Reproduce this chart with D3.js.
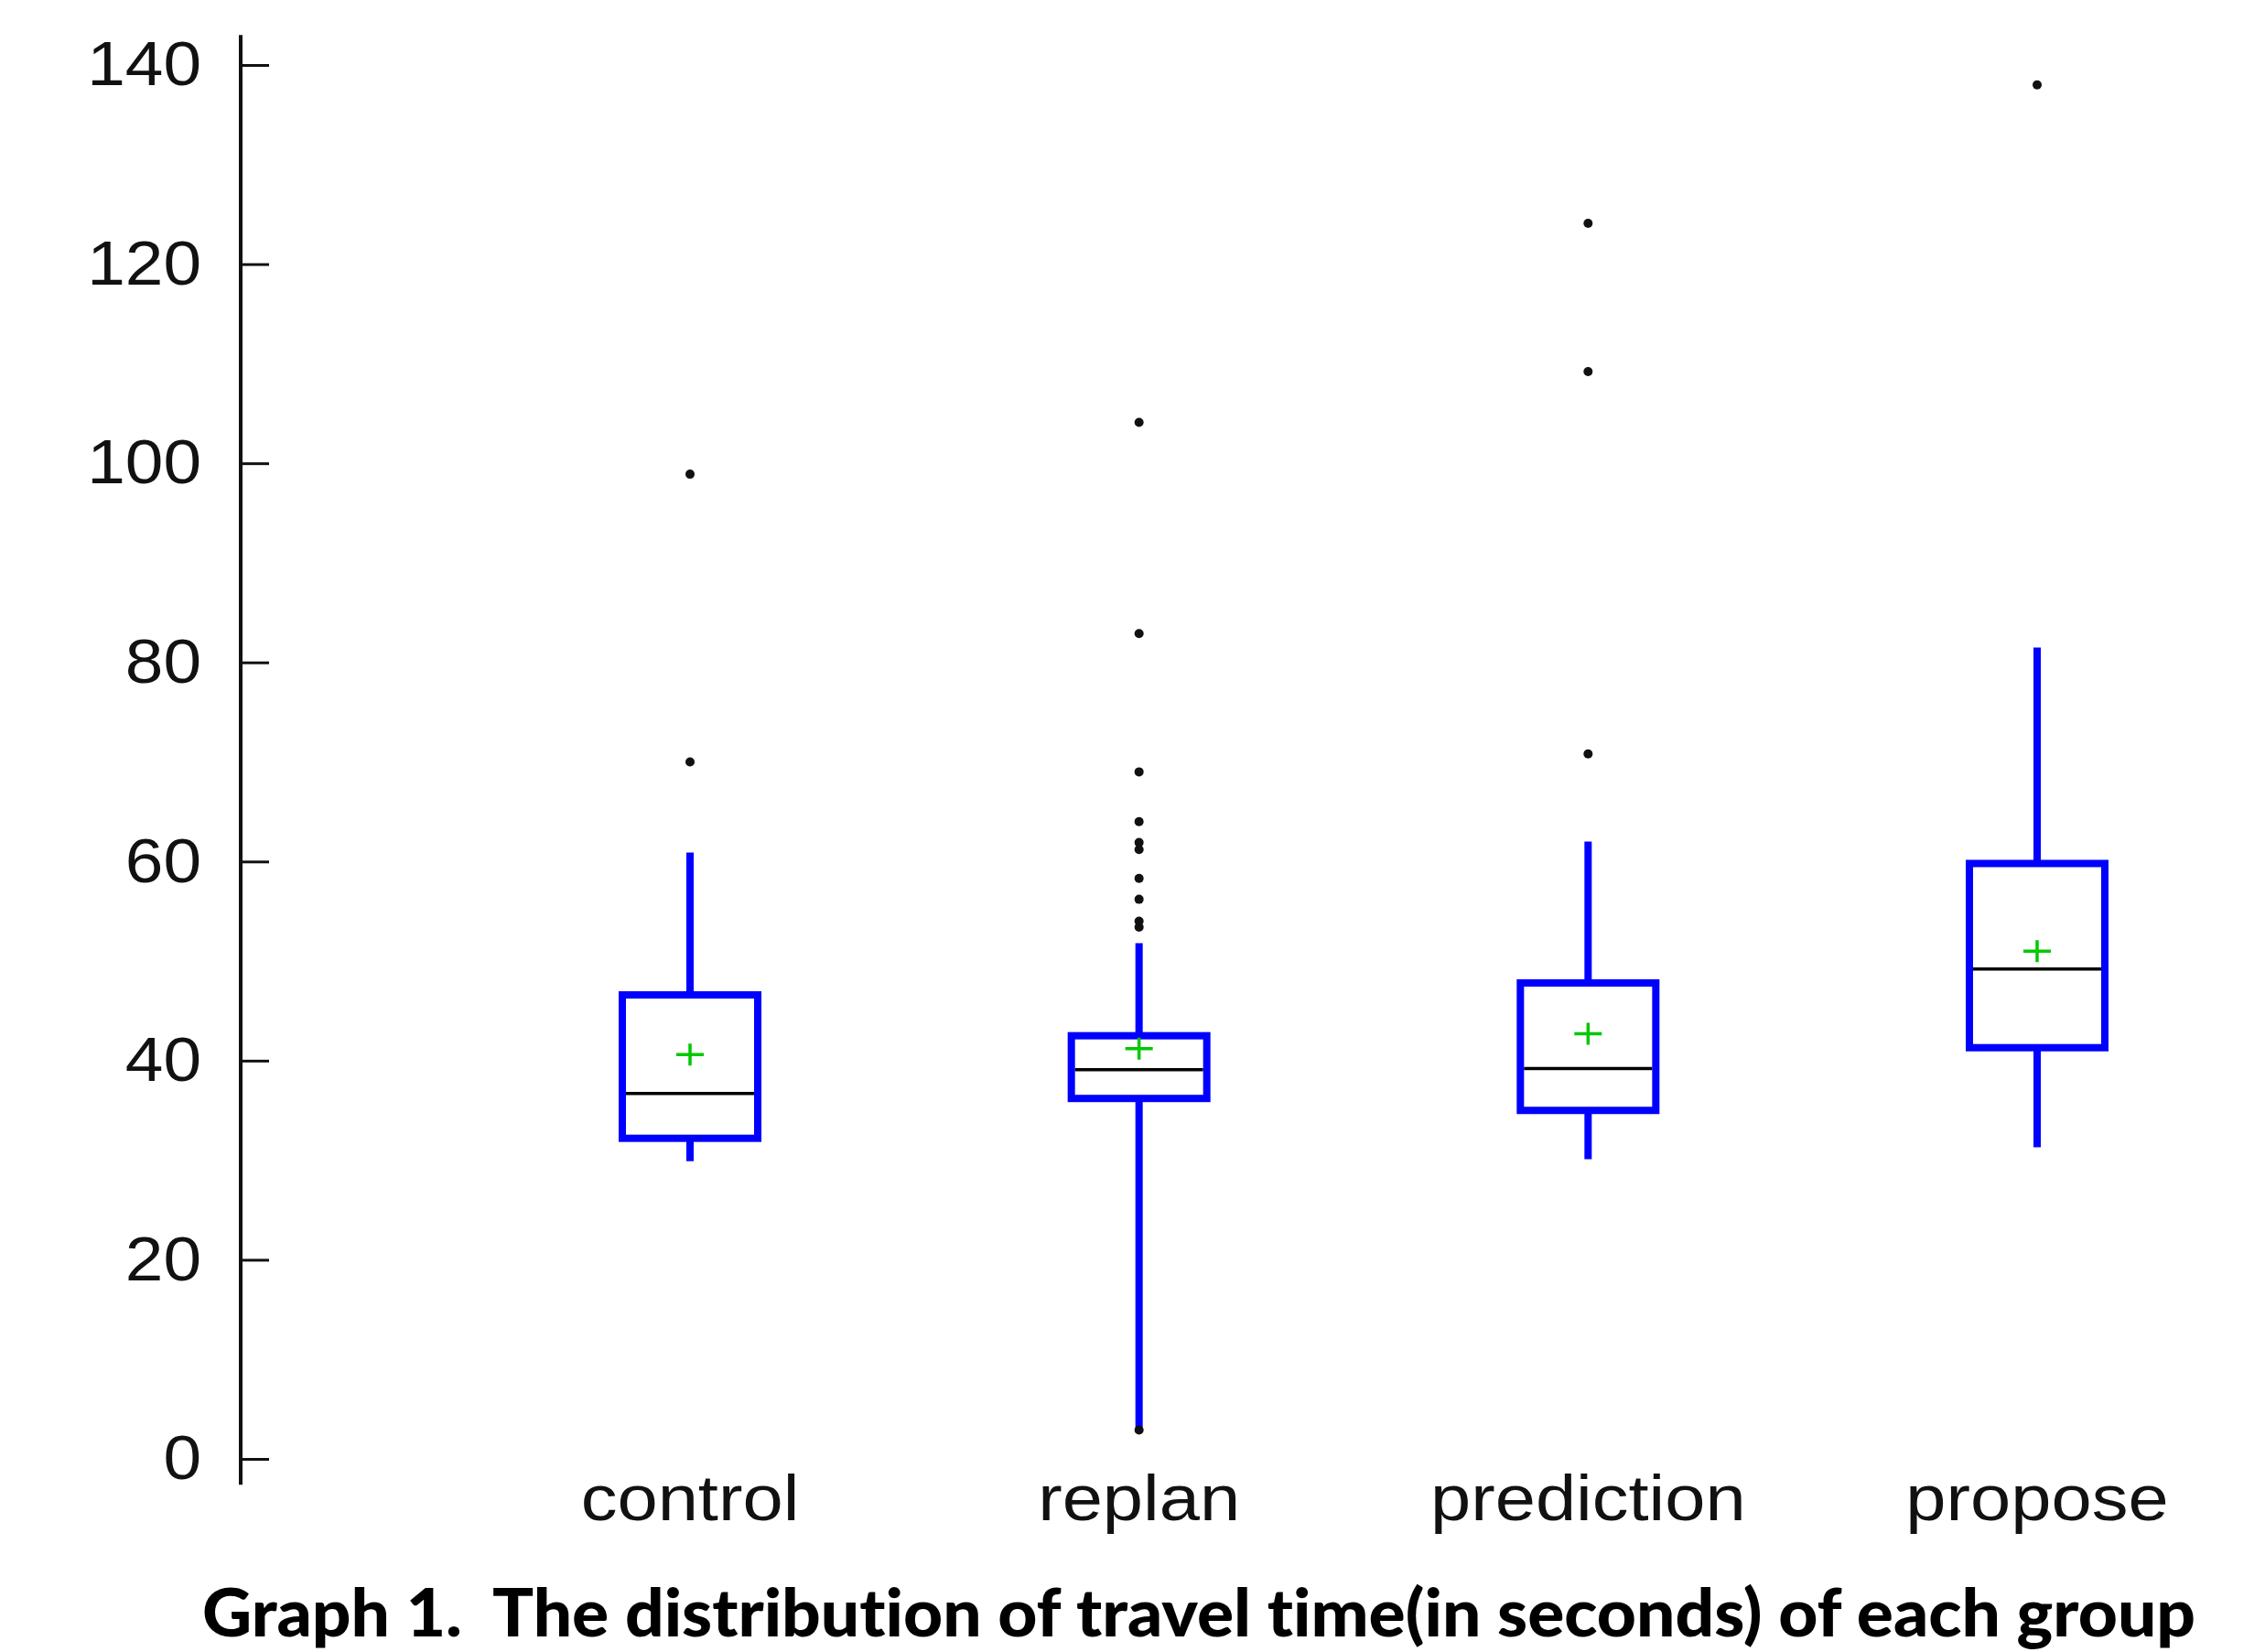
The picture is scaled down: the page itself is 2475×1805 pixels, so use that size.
<!DOCTYPE html>
<html>
<head>
<meta charset="utf-8">
<script src="https://cdn.jsdelivr.net/npm/d3@7"></script>
<style>
  html, body { margin: 0; padding: 0; background: #ffffff; }
  svg { display: block; }
</style>
</head>
<body>
<svg id="chart" width="2475" height="1805"></svg>
<script>
// ---- Data ----
const categories = ["control", "replan", "prediction", "propose"];
const whiskerLow  = [29.9, 2.9, 30.1, 31.3];
const q1          = [32.2, 36.2, 35.0, 41.3];
const medians     = [36.7, 39.1, 39.2, 49.2];
const q3          = [46.6, 42.5, 47.8, 59.8];
const whiskerHigh = [60.9, 51.8, 62.0, 81.5];
const means       = [40.6, 41.2, 42.7, 51.0];
const outliers = [
  [98.9, 70.0],
  [104.1, 82.9, 69.0, 64.0, 61.9, 61.2, 58.3, 56.2, 54.0, 53.4, 2.9],
  [124.1, 109.2, 70.8],
  [138.0]
];
const yTicks = [0, 20, 40, 60, 80, 100, 120, 140];
const title = "Graph 1.  The distribution of travel time(in seconds) of each group";

// ---- Layout ----
const svg = d3.select("#chart");
const axisX = 263;
const y = d3.scaleLinear().domain([0, 140]).range([1594, 71]);
const x = d3.scalePoint().domain(categories).range([754, 2226]);
const boxW = 148;
const blue = "#0000ff";
const labelFont = "'Liberation Sans', Arial, sans-serif";

// y axis
const pad = 43;
const yAxis = d3.axisLeft(y)
  .tickValues(yTicks)
  .tickSizeInner(-31)
  .tickSizeOuter(0)
  .tickPadding(pad)
  .tickFormat(d3.format("d"));
const gy = svg.append("g").attr("transform", `translate(${axisX},0)`).call(yAxis);
gy.select(".domain").remove();
gy.selectAll(".tick line").attr("stroke", "#111").attr("stroke-width", 3);
gy.selectAll(".tick text")
  .attr("fill", "#111")
  .attr("transform", `translate(${-pad},0) scale(1.1,1) translate(${pad},0)`)
  .style("font-family", labelFont)
  .style("font-size", "68px");
svg.append("line")
  .attr("x1", axisX).attr("x2", axisX)
  .attr("y1", y(143)).attr("y2", y(-2.6))
  .attr("stroke", "#111").attr("stroke-width", 4);

// boxes
const groups = svg.append("g").selectAll("g.box")
  .data(categories.map((c, i) => ({c, i})))
  .join("g").attr("class", "box");

// whiskers
groups.append("line")
  .attr("x1", d => x(d.c)).attr("x2", d => x(d.c))
  .attr("y1", d => y(q3[d.i])).attr("y2", d => y(whiskerHigh[d.i]))
  .attr("stroke", blue).attr("stroke-width", 8);
groups.append("line")
  .attr("x1", d => x(d.c)).attr("x2", d => x(d.c))
  .attr("y1", d => y(q1[d.i])).attr("y2", d => y(whiskerLow[d.i]))
  .attr("stroke", blue).attr("stroke-width", 8);
// box
groups.append("rect")
  .attr("x", d => x(d.c) - boxW / 2)
  .attr("width", boxW)
  .attr("y", d => y(q3[d.i]))
  .attr("height", d => y(q1[d.i]) - y(q3[d.i]))
  .attr("fill", "#fff")
  .attr("stroke", blue).attr("stroke-width", 8);
// median
groups.append("line")
  .attr("x1", d => x(d.c) - boxW / 2 + 4).attr("x2", d => x(d.c) + boxW / 2 - 4)
  .attr("y1", d => y(medians[d.i])).attr("y2", d => y(medians[d.i]))
  .attr("stroke", "#000").attr("stroke-width", 3.5);
// mean +
groups.append("path")
  .attr("d", d => {
    const cx = x(d.c), cy = y(means[d.i]);
    return `M${cx - 15},${cy}H${cx + 15}M${cx},${cy - 12}V${cy + 12}`;
  })
  .attr("stroke", "#00c800").attr("stroke-width", 3.5).attr("fill", "none");
// outliers
groups.selectAll("circle")
  .data(d => outliers[d.i].map(v => ({c: d.c, v})))
  .join("circle")
  .attr("cx", d => x(d.c))
  .attr("cy", d => y(d.v))
  .attr("r", 5)
  .attr("fill", "#111");

// category labels
svg.append("g").selectAll("text")
  .data(categories)
  .join("text")
  .attr("transform", d => `translate(${x(d)},1661) scale(1.12,1)`)
  .attr("text-anchor", "middle")
  .attr("fill", "#111")
  .style("font-family", labelFont)
  .style("font-size", "71px")
  .text(d => d);

// title
svg.append("text")
  .attr("x", 221)
  .attr("y", 1788)
  .attr("textLength", 2178)
  .attr("lengthAdjust", "spacingAndGlyphs")
  .attr("fill", "#000")
  .style("font-family", "Lato, 'Open Sans', sans-serif")
  .style("font-weight", "900")
  .style("font-size", "73px")
  .style("font-variant-ligatures", "none")
  .style("white-space", "pre")
  .text(title);
</script>
</body>
</html>
